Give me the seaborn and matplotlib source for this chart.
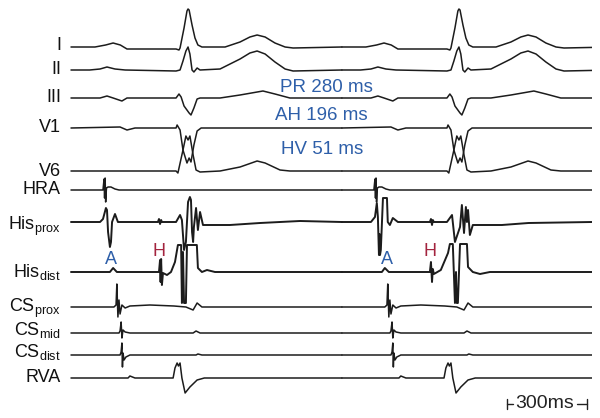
import matplotlib
matplotlib.use("Agg")
import matplotlib.pyplot as plt
import pandas as pd
import seaborn as sns

# tempo em ms desde o início do traçado, amplitude em unidades arbitrárias (positivo = para cima)
beat_onsets = [0, 1016]
strip_end = 1954

lead_I = [(0, 0), (90, 0), (130, 2), (158, 4), (185, 2), (210, -2), (394, -2), (405, -3), (409, -1),
          (424, 19), (435, 36), (439, 38), (443, 37), (454, 22), (465, 9), (476, 2), (491, 0),
          (578, 0), (634, 5), (671, 10), (698, 12), (728, 10), (765, 4), (803, 0), (833, -1), (1016, 0)]
lead_II = [(0, 0), (70, 0), (109, 1), (135, 3), (165, 1), (203, 0), (394, -1), (409, 0), (420, 9),
           (431, 19), (439, 23), (446, 16), (454, 0), (461, -2), (473, 2), (484, 0), (559, 1),
           (634, 11), (671, 17), (698, 19), (728, 16), (765, 8), (803, 1), (833, -1), (1016, 0)]
lead_III = [(0, 0), (109, 0), (135, 2), (158, 0), (191, -3), (210, 0), (394, 0), (405, 4), (413, 1),
            (424, -8), (443, -15), (450, -17), (461, -10), (473, -1), (484, 0), (559, 0), (634, 3),
            (720, 7), (765, 4), (821, 0), (1016, 0)]
lead_V1 = [(0, 0), (184, 1), (210, -2), (240, 0), (394, 0), (398, 3), (409, -2), (420, -22),
           (435, -35), (443, -30), (450, -34), (461, -17), (473, -3), (488, 0), (1016, 0)]
lead_V6 = [(0, 0), (394, 0), (401, -2), (420, 21), (431, 35), (439, 31), (446, 35), (458, 16),
           (469, 1), (484, -1), (559, 0), (634, 4), (698, 10), (728, 8), (784, 1), (821, 0), (1016, 0)]
hra = [(0, 0), (120, 0), (124, 11), (126, -8), (128, 12), (130, -12), (133, 2), (139, 3), (150, 3),
       (165, 1), (180, 0), (1016, 0)]
his_prox_1 = [(0, 0), (109, 0), (120, 3), (131, 14), (135, 12), (139, -10), (146, -25), (150, -20),
              (154, 0), (165, 8), (176, 0), (326, 0), (330, 3), (334, -2), (338, 2), (341, 0), (394, 0),
              (409, 7), (416, 2), (424, -28), (431, -20), (439, 20), (446, 25), (450, 22), (454, -10),
              (458, -20), (461, -5), (469, 14), (476, -8), (484, 10), (495, -3), (596, -3), (709, -1),
              (859, 1), (1016, 0)]
his_prox_2 = [(0, 0), (109, 0), (124, 5), (131, 19), (135, 5), (139, -33), (141, -12), (143, -33),
              (146, -28), (154, 24), (169, 24), (172, 0), (180, -3), (191, 4), (210, 0), (330, 0),
              (334, 3), (338, -3), (341, 2), (345, 0), (394, 0), (413, 7), (424, -20), (443, -5),
              (450, 17), (458, -11), (465, 15), (469, 0), (473, 12), (480, -13), (491, -3), (600, -3),
              (700, -1), (938, 0)]
his_dist_1 = [(0, 0), (146, 0), (158, 4), (172, 0), (330, 0), (334, 12), (336, -10), (338, 13),
              (341, -13), (345, -1), (360, -3), (375, 0), (390, 10), (401, 27), (413, 27), (416, -31),
              (420, 20), (424, -31), (431, -31), (435, 27), (472, 27), (476, 4), (491, 0), (510, 2),
              (540, 0), (1016, 0)]
his_dist_2 = [(0, 0), (150, 0), (161, 4), (176, 0), (330, 0), (334, 10), (338, -10), (341, 3),
              (345, -2), (371, 2), (398, 19), (405, 28), (416, 28), (424, -31), (428, 0), (431, -31),
              (435, -31), (443, 28), (469, 28), (473, 5), (491, 0), (518, -2), (555, 0), (938, 0)]
cs_prox = [(0, 0), (161, 0), (169, 2), (172, 23), (176, -10), (180, 7), (184, -7), (191, 2), (203, -1),
           (221, 1), (296, 2), (386, 1), (431, 0), (458, -3), (473, 4), (491, 0), (1016, 0)]
cs_mid = [(0, 0), (180, 0), (184, 2), (188, 11), (191, -5), (195, 3), (203, 1), (221, 0), (458, 0),
          (469, 2), (484, 0), (1016, 0)]
cs_dist = [(0, 0), (184, 0), (188, 3), (191, 12), (193, -12), (195, 2), (199, -5), (206, -2), (221, 0),
           (469, 0), (476, 1), (491, 0), (1016, 0)]
rva = [(0, 0), (214, 0), (221, 2), (240, 0), (383, 0), (390, 10), (398, 15), (403, 12), (409, 15),
       (416, 0), (428, -15), (446, -9), (473, -2), (500, 0), (1016, 0)]

channel_labels = ["I", "II", "III", "V1", "V6", "HRA",
                  r"$\mathrm{His}_{\mathrm{prox}}$", r"$\mathrm{His}_{\mathrm{dist}}$",
                  r"$\mathrm{CS}_{\mathrm{prox}}$", r"$\mathrm{CS}_{\mathrm{mid}}$",
                  r"$\mathrm{CS}_{\mathrm{dist}}$", "RVA"]
channel_beats = [[lead_I, lead_I], [lead_II, lead_II], [lead_III, lead_III], [lead_V1, lead_V1],
                 [lead_V6, lead_V6], [hra, hra], [his_prox_1, his_prox_2], [his_dist_1, his_dist_2],
                 [cs_prox, cs_prox], [cs_mid, cs_mid], [cs_dist, cs_dist], [rva, rva]]

intervals = ["PR 280 ms", "AH 196 ms", "HV 51 ms"]
a_marks = [150, 1185]
h_marks = [330, 1346]
scale_ms = 300

# layout (pixels da figura)
baseline_px = [47, 70, 98, 128, 171, 190, 222, 272, 307, 333, 355, 378]
label_px = [44, 68, 96, 126, 169, 188, 223, 270, 305, 328, 350, 376]
interval_px = [(280, 87), (275, 115), (281, 150)]


def ms(xpx):
    return (xpx - 71) * 3.75


rows = []
for i, beats in enumerate(channel_beats):
    for onset, knots in zip(beat_onsets, beats):
        for t, a in knots:
            rows.append((i, f"{i}_{onset}", t + onset, baseline_px[i] - a))
df = pd.DataFrame(rows, columns=["canal", "seg", "t", "y"])

sns.set_style("white")
plt.rcParams["font.family"] = ["Liberation Sans", "DejaVu Sans"]
plt.rcParams["mathtext.fontset"] = "custom"
plt.rcParams["mathtext.rm"] = "Liberation Sans"

fig = plt.figure(figsize=(6, 4.18), dpi=100)
ax = fig.add_axes([0, 0, 592 / 600, 1])

his = df["canal"].isin([6, 7])
sns.lineplot(data=df[~his], x="t", y="y", units="seg", estimator=None, sort=False,
             color="#1c1c1c", lw=1.1, ax=ax, legend=False)
sns.lineplot(data=df[his], x="t", y="y", units="seg", estimator=None, sort=False,
             color="#1c1c1c", lw=1.4, ax=ax, legend=False)

ax.set_xlim(ms(0), strip_end)
ax.set_ylim(418, 0)
ax.set_axis_off()

for lab, ly in zip(channel_labels, label_px):
    ax.text(ms(61), ly + 6.5, lab, ha="right", va="baseline", fontsize=13, color="#111111")

blue = "#2e5fa9"
red = "#a3243f"
for txt, (xp, yp) in zip(intervals, interval_px):
    ax.text(ms(xp), yp, txt, ha="left", va="center", fontsize=13.5, color=blue)
for t in a_marks:
    ax.text(t, 260, "A", ha="center", va="center", fontsize=13, color=blue)
for t in h_marks:
    ax.text(t, 251, "H", ha="center", va="center", fontsize=13, color=red)

# barra de escala
x0 = ms(507)
x1 = x0 + scale_ms
yb = 404
ax.plot([x0, x0], [yb - 5, yb + 5], color="#222222", lw=1.0, clip_on=False)
ax.plot([x0, x0 + 22], [yb, yb], color="#222222", lw=1.0, clip_on=False)
ax.plot([x1 - 38, x1], [yb, yb], color="#222222", lw=1.0, clip_on=False)
ax.plot([x1, x1], [yb - 5, yb + 5], color="#222222", lw=1.0, clip_on=False)
ax.text((x0 + 22 + x1 - 38) / 2, yb, "300ms", ha="center", va="center", fontsize=14, color="#222222")

fig.savefig("out.png", dpi=100)
